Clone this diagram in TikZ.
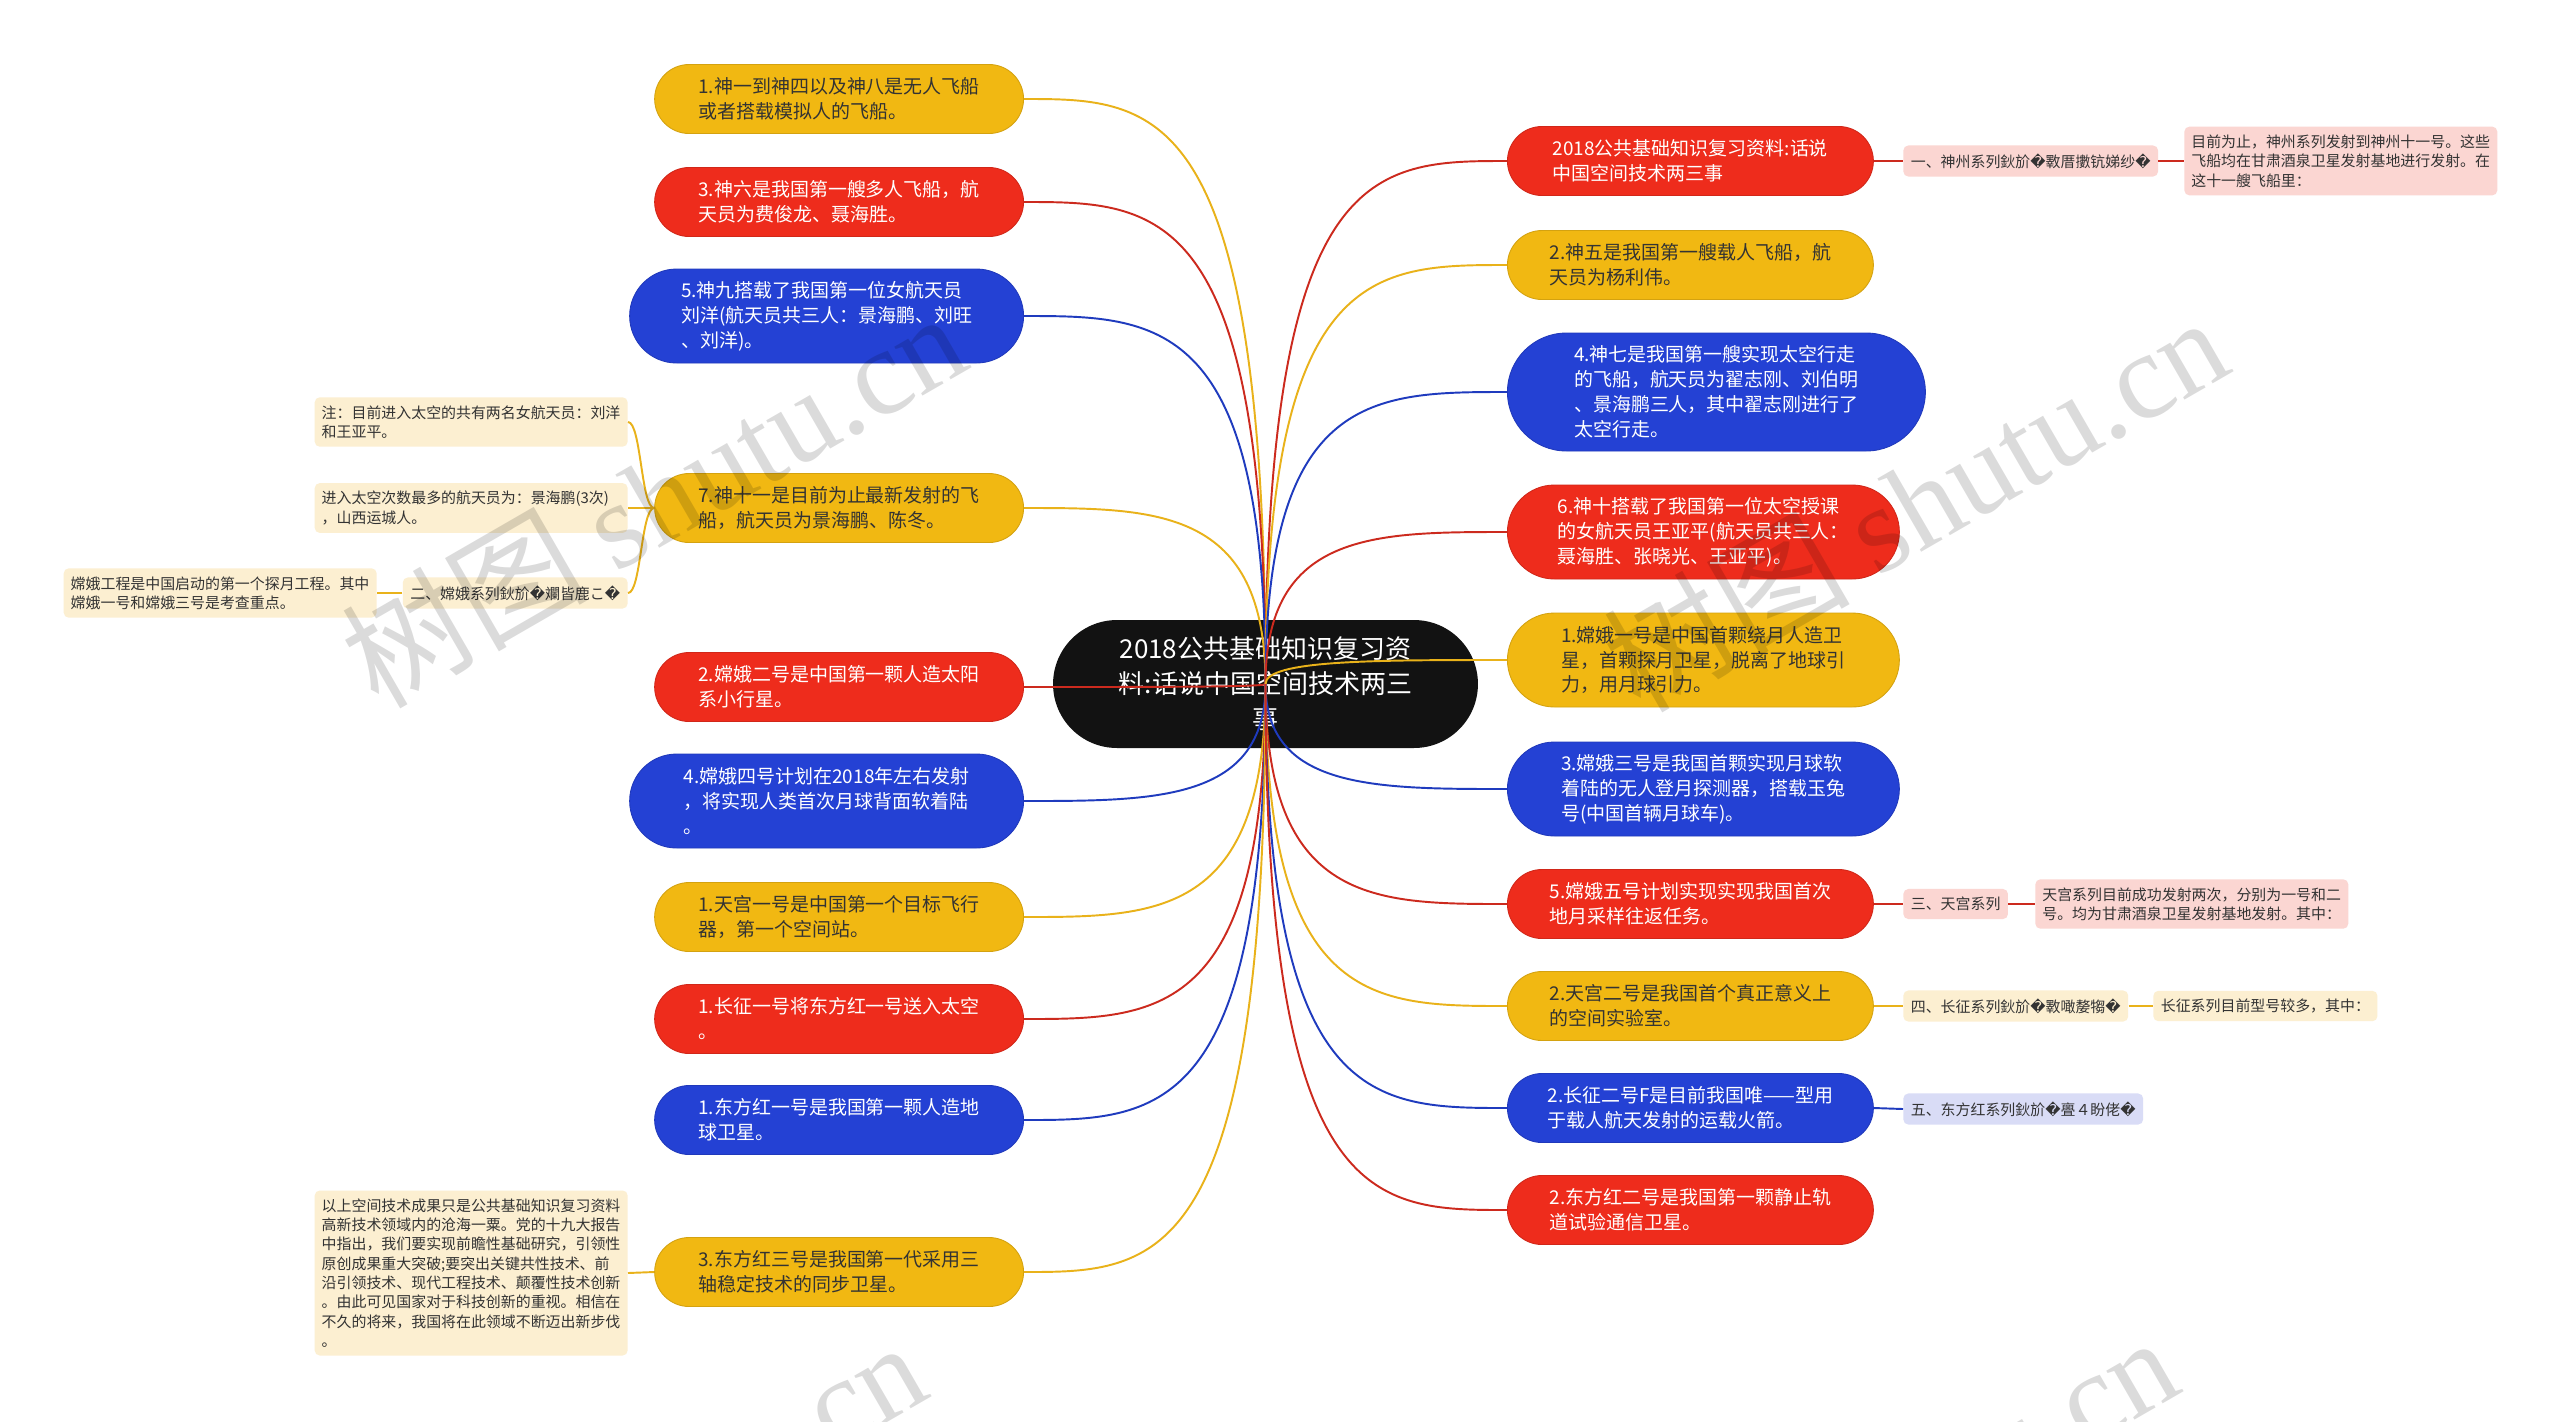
\documentclass[tikz,border=0pt]{standalone}
\usepackage{fontspec}
\setmainfont{Noto Sans CJK SC}
\newfontfamily\repfont{DejaVu Sans}
\newfontfamily\wmfont{Liberation Serif}
\newcommand\qm{{\repfont\symbol{"FFFD}}}
\usetikzlibrary{shapes.misc,calc}
\definecolor{yfill}{HTML}{F1B812}
\definecolor{rfill}{HTML}{EE2C1C}
\definecolor{bfill}{HTML}{2441D4}
\definecolor{yedge}{HTML}{E9B21A}
\definecolor{redge}{HTML}{CC2A1E}
\definecolor{bedge}{HTML}{1F3BBE}
\definecolor{ink}{HTML}{333333}
\definecolor{pinkbg}{HTML}{FBD6D2}
\definecolor{creambg}{HTML}{FCEFD1}
\definecolor{lilacbg}{HTML}{D9DCF6}

\begin{document}
\begin{tikzpicture}[
  x=0.02cm, y=-0.02cm,
  pill/.style={rounded rectangle, align=left, inner sep=0pt, line width=0.5pt,
    font=\fontsize{10.8}{14.2}\selectfont},
  ybox/.style={pill, fill=yfill, draw=yfill!88!black, text=ink},
  rbox/.style={pill, fill=rfill, draw=rfill!88!black, text=white},
  bbox/.style={pill, fill=bfill, draw=bfill!88!black, text=white},
  h2/.style={minimum height=1.38cm},
  h3/.style={minimum height=1.88cm},
  h4/.style={minimum height=2.36cm},
  tag/.style={rectangle, rounded corners=0.1cm, align=left, inner xsep=0.15cm,
    inner ysep=4.6pt, font=\fontsize{8.5}{11}\selectfont, text=ink},
  wide/.style={text width=5.98cm, inner xsep=0.14cm},
  yline/.style={draw=yedge, line width=1.1pt},
  rline/.style={draw=redge, line width=1.1pt},
  bline/.style={draw=bedge, line width=1.1pt},
  wm/.style={font=\fontsize{70}{70}\selectfont, text=black, text opacity=0.14}
]
\useasboundingbox[fill=white] (0,0) rectangle (2560,1421);

% root
\node[rounded rectangle, fill=black!93, text=white, align=center, inner sep=0pt,
  minimum width=8.5cm, minimum height=2.56cm,
  font=\fontsize{14.8}{19.9}\selectfont] (root) at (1265.5,684)
  {2018公共基础知识复习资\\料:话说中国空间技术两三\\事};

% left branches
\node[ybox, h2, minimum width=7.38cm, anchor=east] (l1) at (1024,99)
  {1.神一到神四以及神八是无人飞船\\或者搭载模拟人的飞船。};
\node[rbox, h2, minimum width=7.38cm, anchor=east] (l2) at (1024,202)
  {3.神六是我国第一艘多人飞船，航\\天员为费俊龙、聂海胜。};
\node[bbox, h3, minimum width=7.88cm, anchor=east] (l3) at (1024,316)
  {5.神九搭载了我国第一位女航天员\\刘洋(航天员共三人：景海鹏、刘旺\\、刘洋)。};
\node[ybox, h2, minimum width=7.38cm, anchor=east] (l4) at (1024,508)
  {7.神十一是目前为止最新发射的飞\\船，航天员为景海鹏、陈冬。};
\node[rbox, h2, minimum width=7.38cm, anchor=east] (l5) at (1024,687)
  {2.嫦娥二号是中国第一颗人造太阳\\系小行星。};
\node[bbox, h3, minimum width=7.88cm, anchor=east] (l6) at (1024,801)
  {4.嫦娥四号计划在2018年左右发射\\，将实现人类首次月球背面软着陆\\。};
\node[ybox, h2, minimum width=7.38cm, anchor=east] (l7) at (1024,917)
  {1.天宫一号是中国第一个目标飞行\\器，第一个空间站。};
\node[rbox, h2, minimum width=7.38cm, anchor=east] (l8) at (1024,1019)
  {1.长征一号将东方红一号送入太空\\。};
\node[bbox, h2, minimum width=7.38cm, anchor=east] (l9) at (1024,1120)
  {1.东方红一号是我国第一颗人造地\\球卫星。};
\node[ybox, h2, minimum width=7.38cm, anchor=east] (l10) at (1024,1272)
  {3.东方红三号是我国第一代采用三\\轴稳定技术的同步卫星。};

% right branches
\node[rbox, h2, minimum width=7.32cm, anchor=west] (r1) at (1507,161)
  {2018公共基础知识复习资料:话说\\中国空间技术两三事};
\node[ybox, h2, minimum width=7.32cm, anchor=west] (r2) at (1507,265)
  {2.神五是我国第一艘载人飞船，航\\天员为杨利伟。};
\node[bbox, h4, minimum width=8.36cm, anchor=west] (r3) at (1507,392)
  {4.神七是我国第一艘实现太空行走\\的飞船，航天员为翟志刚、刘伯明\\、景海鹏三人，其中翟志刚进行了\\太空行走。};
\node[rbox, h3, minimum width=7.84cm, anchor=west] (r4) at (1507,532)
  {6.神十搭载了我国第一位太空授课\\的女航天员王亚平(航天员共三人：\\聂海胜、张晓光、王亚平)。};
\node[ybox, h3, minimum width=7.84cm, anchor=west] (r5) at (1507,660)
  {1.嫦娥一号是中国首颗绕月人造卫\\星，首颗探月卫星，脱离了地球引\\力，用月球引力。};
\node[bbox, h3, minimum width=7.84cm, anchor=west] (r6) at (1507,789)
  {3.嫦娥三号是我国首颗实现月球软\\着陆的无人登月探测器，搭载玉兔\\号(中国首辆月球车)。};
\node[rbox, h2, minimum width=7.32cm, anchor=west] (r7) at (1507,904)
  {5.嫦娥五号计划实现实现我国首次\\地月采样往返任务。};
\node[ybox, h2, minimum width=7.32cm, anchor=west] (r8) at (1507,1006)
  {2.天宫二号是我国首个真正意义上\\的空间实验室。};
\node[bbox, h2, minimum width=7.32cm, anchor=west] (r9) at (1507,1108)
  {2.长征二号F是目前我国唯——型用\\于载人航天发射的运载火箭。};
\node[rbox, h2, minimum width=7.32cm, anchor=west] (r10) at (1507,1210)
  {2.东方红二号是我国第一颗静止轨\\道试验通信卫星。};

% small notes, right
\node[tag, fill=pinkbg, anchor=west] (sz1) at (1903,161)
  {一、神州系列鈥斺\qm 斁厝擻钪娣纱\qm};
\node[tag, wide, fill=pinkbg, anchor=west] (sz2) at (2184,161)
  {目前为止，神州系列发射到神州十一号。这些\\飞船均在甘肃酒泉卫星发射基地进行发射。在\\这十一艘飞船里：};
\node[tag, fill=pinkbg, anchor=west] (tg1) at (1903,904) {三、天宫系列};
\node[tag, wide, fill=pinkbg, anchor=west] (tg2) at (2035,904)
  {天宫系列目前成功发射两次，分别为一号和二\\号。均为甘肃酒泉卫星发射基地发射。其中：};
\node[tag, fill=creambg, anchor=west] (cz1) at (1903,1006)
  {四、长征系列鈥斺\qm 斁噉嫠犓\qm};
\node[tag, fill=creambg, anchor=west] (cz2) at (2153,1006)
  {长征系列目前型号较多，其中：};
\node[tag, fill=lilacbg, anchor=west] (dfh1) at (1903,1109)
  {五、东方红系列鈥斺\qm 亹４盼佬\qm};

% small notes, left
\node[tag, wide, fill=creambg, anchor=east] (note1) at (628,422)
  {注：目前进入太空的共有两名女航天员：刘洋\\和王亚平。};
\node[tag, wide, fill=creambg, anchor=east] (note2) at (628,508)
  {进入太空次数最多的航天员为：景海鹏(3次)\\，山西运城人。};
\node[tag, fill=creambg, anchor=east] (ce1) at (628,593)
  {二、嫦娥系列鈥斺\qm 斕皆鹿こ\qm};
\node[tag, wide, fill=creambg, anchor=east] (ce2) at (377,593)
  {嫦娥工程是中国启动的第一个探月工程。其中\\嫦娥一号和嫦娥三号是考查重点。};
\node[tag, wide, fill=creambg, anchor=east] (tail) at (628,1273)
  {以上空间技术成果只是公共基础知识复习资料\\高新技术领域内的沧海一粟。党的十九大报告\\中指出，我们要实现前瞻性基础研究，引领性\\原创成果重大突破;要突出关键共性技术、前\\沿引领技术、现代工程技术、颠覆性技术创新\\。由此可见国家对于科技创新的重视。相信在\\不久的将来，我国将在此领域不断迈出新步伐\\。};

% connectors from the root
\foreach \n/\e in {l1/yline,l2/rline,l3/bline,l4/yline,l5/rline,
                   l6/bline,l7/yline,l8/rline,l9/bline,l10/yline}
  \draw[\e] (root.center) .. controls (root.center |- \n.east)
    and ($(root.center |- \n.east)!0.45!(\n.east)$) .. (\n.east);
\foreach \n/\e in {r1/rline,r2/yline,r3/bline,r4/rline,r5/yline,
                   r6/bline,r7/rline,r8/yline,r9/bline,r10/rline}
  \draw[\e] (root.center) .. controls (root.center |- \n.west)
    and ($(root.center |- \n.west)!0.45!(\n.west)$) .. (\n.west);

% side connectors
\draw[rline] (r1.east) -- (sz1.west);
\draw[rline] (sz1.east) -- (sz2.west);
\draw[rline] (r7.east) -- (tg1.west);
\draw[rline] (tg1.east) -- (tg2.west);
\draw[yline] (r8.east) -- (cz1.west);
\draw[yline] (cz1.east) -- (cz2.west);
\draw[bline] (r9.east) -- (dfh1.west);

\coordinate (fork) at ($(l4.west)!0.5!(note2.east)$);
\draw[yline] (l4.west) -- (note2.east);
\draw[yline] (l4.west) .. controls (fork) and (fork |- note1.east) .. (note1.east);
\draw[yline] (l4.west) .. controls (fork) and (fork |- ce1.east) .. (ce1.east);
\draw[yline] (ce1.west) -- (ce2.east);
\draw[yline] (l10.west) -- (tail.east);

% watermark
\begin{scope}
  \clip (0,0) rectangle (2560,1421);
  \node[wm, rotate=30] at (653,498) {树图 {\wmfont shutu.cn}};
  \node[wm, rotate=30] at (1915,502) {树图 {\wmfont shutu.cn}};
  \node[wm, rotate=30] at (613,1527) {树图 {\wmfont shutu.cn}};
  \node[wm, rotate=30] at (1865,1522) {树图 {\wmfont shutu.cn}};
\end{scope}
\end{tikzpicture}
\end{document}
